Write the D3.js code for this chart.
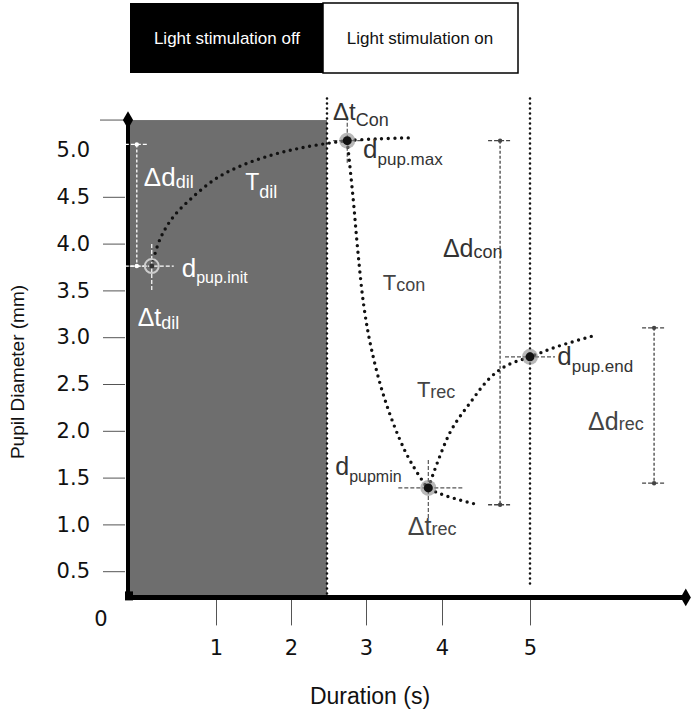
<!DOCTYPE html>
<html>
<head>
<meta charset="utf-8">
<script src="https://cdn.jsdelivr.net/npm/d3@7"></script>
<style>
  body { margin: 0; background: #fff; }
  svg text { font-family: "Liberation Sans", Arial, sans-serif; }
</style>
</head>
<body>
<div id="chart"></div>
<script>
// ---- data ----
const xTicks = [1, 2, 3, 4, 5];
const yTicks = [0.5, 1.0, 1.5, 2.0, 2.5, 3.0, 3.5, 4.0, 4.5, 5.0];
const legendItems = ["Light stimulation off", "Light stimulation on"];

const stimOnset = 2.48;   // end of the dark phase (s)
const endMark = 5;        // dotted line at 5 s

// dilation phase, light off
const dilCurve = [
  [0.27, 3.76], [0.36, 4.04], [0.51, 4.28], [0.74, 4.50], [1.01, 4.70],
  [1.36, 4.84], [1.76, 4.95], [2.12, 5.02], [2.48, 5.07], [2.76, 5.10],
  [3.18, 5.12], [3.58, 5.13]
];
// constriction after light on
const conCurve = [
  [2.75, 5.10], [2.83, 4.47], [2.89, 3.93], [2.97, 3.34], [3.07, 2.88],
  [3.25, 2.33], [3.51, 1.79], [3.74, 1.47], [3.82, 1.39], [4.03, 1.31],
  [4.41, 1.21]
];
// recovery
const recCurve = [
  [3.82, 1.39], [4.09, 1.98], [4.32, 2.30], [4.55, 2.57], [4.74, 2.70],
  [5.00, 2.79], [5.31, 2.90], [5.74, 3.02]
];

const markers = [
  { id: "init", t: 0.27, v: 3.76 },
  { id: "max", t: 2.75, v: 5.10 },
  { id: "min", t: 3.82, v: 1.39 },
  { id: "end", t: 5.00, v: 2.79 }
];

// Δd bars
const dBars = [
  { id: "dil", t: 0.10, top: 5.06, bottom: 3.76, color: "#fff" },
  { id: "con", t: 4.66, top: 5.10, bottom: 1.21, color: "#444" },
  { id: "rec", t: 6.41, top: 3.10, bottom: 1.44, color: "#444" }
];

// annotation labels: main text + subscript at (t, v)
const labels = [
  { main: "\u0394d", sub: "dil", t: 0.18, v: 4.62, color: "#fff", size: 26, subSize: 18, dy: 2 },
  { main: "T", sub: "dil", t: 1.39, v: 4.57, color: "#fff", size: 23, subSize: 18, dy: 8 },
  { main: "d", sub: "pup.init", t: 0.61, v: 3.64, color: "#fff", size: 26, subSize: 16, dy: 6 },
  { main: "\u0394t", sub: "dil", t: 0.11, v: 3.12, color: "#fff", size: 25, subSize: 18, dy: 3 },
  { main: "\u0394t", sub: "Con", t: 2.56, v: 5.32, color: "#333", size: 24, subSize: 18, dy: 6 },
  { main: "d", sub: "pup.max", t: 2.96, v: 4.91, color: "#333", size: 26, subSize: 17, dy: 7 },
  { main: "\u0394d", sub: "con", t: 4.01, v: 3.86, color: "#333", size: 25, subSize: 18, dy: 1 },
  { main: "T", sub: "con", t: 3.22, v: 3.50, color: "#444", size: 22, subSize: 18, dy: 1 },
  { main: "T", sub: "rec", t: 3.67, v: 2.36, color: "#444", size: 22, subSize: 18, dy: 1 },
  { main: "d", sub: "pup.end", t: 5.31, v: 2.70, color: "#333", size: 26, subSize: 17, dy: 7 },
  { main: "\u0394d", sub: "rec", t: 5.66, v: 2.01, color: "#444", size: 25, subSize: 18, dy: 0 },
  { main: "d", sub: "pupmin", t: 2.59, v: 1.53, color: "#333", size: 25, subSize: 16, dy: 7 },
  { main: "\u0394t", sub: "rec", t: 3.55, v: 0.89, color: "#444", size: 25, subSize: 18, dy: 0 }
];

// ---- layout ----
const W = 696, H = 717;
const tickFont = "'DejaVu Sans', Verdana, sans-serif";
const svg = d3.select("#chart").append("svg")
  .attr("width", W).attr("height", H);

// schematic time axis: uneven spacing as in the original figure
const x = d3.scaleLinear()
  .domain([0, 1, 2, 3, 4, 5, 7])
  .range([128, 216, 291, 366, 442, 530, 706]);
const y = d3.scaleLinear().domain([0, 5]).range([618, 150]);

const vAxis = 0.22, vTop = 5.32, tEnd = 6.77;

// legend boxes
const legend = svg.append("g");
legendItems.forEach((txt, i) => {
  const x0 = 130 + i * 193;
  legend.append("rect")
    .attr("x", x0).attr("y", 3)
    .attr("width", i ? 195 : 193).attr("height", 70)
    .attr("fill", i ? "#fff" : "#000")
    .attr("stroke", "#000").attr("stroke-width", i ? 1.5 : 0);
  legend.append("text")
    .attr("x", x0 + 97).attr("y", 44)
    .attr("text-anchor", "middle")
    .attr("font-size", 17)
    .attr("fill", i ? "#111" : "#fff")
    .text(txt);
});

// dark phase
svg.append("rect")
  .attr("x", x(0) + 1).attr("y", y(vTop))
  .attr("width", x(stimOnset) - x(0) - 1)
  .attr("height", y(vAxis) - y(vTop))
  .attr("fill", "#6e6e6e");

// dotted vertical markers
const dotV = (t, v0, v1) => svg.append("line")
  .attr("x1", x(t)).attr("x2", x(t))
  .attr("y1", y(v0)).attr("y2", y(v1))
  .attr("stroke", "#111").attr("stroke-width", 2.6)
  .attr("stroke-linecap", "round")
  .attr("stroke-dasharray", "0 5");
dotV(stimOnset, 5.55, vAxis);
dotV(endMark, 5.55, 0.32);

// y axis
const yAxis = svg.append("g")
  .attr("transform", "translate(125,0)")
  .call(d3.axisLeft(y).tickValues(yTicks).tickFormat(d3.format(".1f"))
    .tickSize(22).tickPadding(13));
yAxis.select(".domain").remove();
yAxis.selectAll(".tick line").attr("stroke", "#555")
  .attr("opacity", d => d === 5 ? 0 : 1);
yAxis.selectAll(".tick text")
  .attr("fill", "#111")
  .style("font-size", "21px")
  .style("font-family", tickFont);

// top stub
svg.append("line")
  .attr("x1", 100).attr("x2", 128)
  .attr("y1", y(vTop)).attr("y2", y(vTop))
  .attr("stroke", "#555").attr("stroke-width", 1);

// x axis
const xAxis = svg.append("g")
  .attr("transform", `translate(0,${y(vAxis)})`)
  .call(d3.axisBottom(x).tickValues(xTicks).tickFormat(d3.format("d"))
    .tickSize(28).tickPadding(15));
xAxis.select(".domain").remove();
xAxis.selectAll(".tick line").attr("stroke", "#555");
xAxis.selectAll(".tick text")
  .attr("fill", "#111")
  .style("font-size", "21px")
  .style("font-family", tickFont);

// heavy axis lines
svg.append("line")
  .attr("x1", x(0)).attr("x2", x(0))
  .attr("y1", y(vTop)).attr("y2", y(vAxis))
  .attr("stroke", "#000").attr("stroke-width", 4);
svg.append("line")
  .attr("x1", x(0)).attr("x2", x(tEnd))
  .attr("y1", y(vAxis)).attr("y2", y(vAxis))
  .attr("stroke", "#000").attr("stroke-width", 5);
[[0, vTop], [tEnd, vAxis]].forEach(([t, v]) => {
  svg.append("path")
    .attr("d", d3.symbol(d3.symbolDiamond, 90)())
    .attr("transform", `translate(${x(t)},${y(v)})`)
    .attr("fill", "#000");
});
svg.append("rect")
  .attr("x", x(0) - 3).attr("y", y(vAxis) - 6)
  .attr("width", 8).attr("height", 9).attr("fill", "#000");

// origin label
svg.append("text")
  .attr("x", 101).attr("y", 626)
  .attr("text-anchor", "middle")
  .attr("fill", "#111")
  .style("font-size", "21px")
  .style("font-family", tickFont)
  .text("0");

// axis titles
svg.append("text")
  .attr("x", 370).attr("y", 704)
  .attr("text-anchor", "middle")
  .attr("font-size", 23).attr("fill", "#111")
  .text("Duration (s)");
svg.append("text")
  .attr("transform", "translate(24,372) rotate(-90)")
  .attr("text-anchor", "middle")
  .attr("font-size", 19).attr("fill", "#111")
  .text("Pupil Diameter (mm)");

// Δd bars
const barG = svg.append("g");
dBars.forEach(b => {
  const bx = x(b.t);
  barG.append("line")
    .attr("x1", bx).attr("x2", bx)
    .attr("y1", y(b.top)).attr("y2", y(b.bottom))
    .attr("stroke", b.color).attr("stroke-width", 1.3)
    .attr("stroke-dasharray", "3 2");
  [b.top, b.bottom].forEach(v => {
    barG.append("line")
      .attr("x1", bx - 12).attr("x2", bx + 12)
      .attr("y1", y(v)).attr("y2", y(v))
      .attr("stroke", b.color).attr("stroke-width", 1.3)
      .attr("stroke-dasharray", "4 2");
    barG.append("circle")
      .attr("cx", bx).attr("cy", y(v)).attr("r", 2.2)
      .attr("fill", b.color);
  });
});

// crosshairs at markers: [dxLeft, dxRight, dyUp, dyDown]
const cross = {
  init: [-22, 22, -22, 24],
  max: [-14, 16, -24, 22],
  min: [-30, 34, -28, 30],
  end: [-25, 25, 0, 0]
};
markers.forEach(m => {
  const [l, r, u, d] = cross[m.id];
  const cx = x(m.t), cy = y(m.v);
  const col = m.id === "init" ? "#fff" : "#555";
  svg.append("line")
    .attr("x1", cx + l).attr("x2", cx + r).attr("y1", cy).attr("y2", cy)
    .attr("stroke", col).attr("stroke-width", 1.2)
    .attr("stroke-dasharray", "4 2");
  if (u || d) {
    svg.append("line")
      .attr("x1", cx).attr("x2", cx).attr("y1", cy + u).attr("y2", cy + d)
      .attr("stroke", col).attr("stroke-width", 1.2)
      .attr("stroke-dasharray", "4 2");
  }
});

// curves
const line = d3.line()
  .x(d => x(d[0])).y(d => y(d[1]))
  .curve(d3.curveCatmullRom.alpha(0.5));
[dilCurve, conCurve, recCurve].forEach(c => {
  svg.append("path")
    .attr("d", line(c))
    .attr("fill", "none")
    .attr("stroke", "#111").attr("stroke-width", 3.4)
    .attr("stroke-linecap", "round")
    .attr("stroke-dasharray", "0 6.6");
});

// markers
markers.forEach(m => {
  const cx = x(m.t), cy = y(m.v);
  if (m.id === "init") {
    svg.append("circle").attr("cx", cx).attr("cy", cy).attr("r", 7)
      .attr("fill", "none").attr("stroke", "#ccc").attr("stroke-width", 2);
    svg.append("circle").attr("cx", cx).attr("cy", cy).attr("r", 2.5)
      .attr("fill", "#333");
  } else {
    svg.append("circle").attr("cx", cx).attr("cy", cy).attr("r", 8)
      .attr("fill", "#888").attr("opacity", 0.6);
    svg.append("circle").attr("cx", cx).attr("cy", cy).attr("r", 4.5)
      .attr("fill", "#111");
  }
});

// annotation labels
labels.forEach(l => {
  const t = svg.append("text")
    .attr("x", x(l.t)).attr("y", y(l.v))
    .attr("fill", l.color);
  t.append("tspan").attr("font-size", l.size).text(l.main);
  t.append("tspan").attr("font-size", l.subSize).attr("dy", l.dy).text(l.sub);
});
</script>
</body>
</html>
